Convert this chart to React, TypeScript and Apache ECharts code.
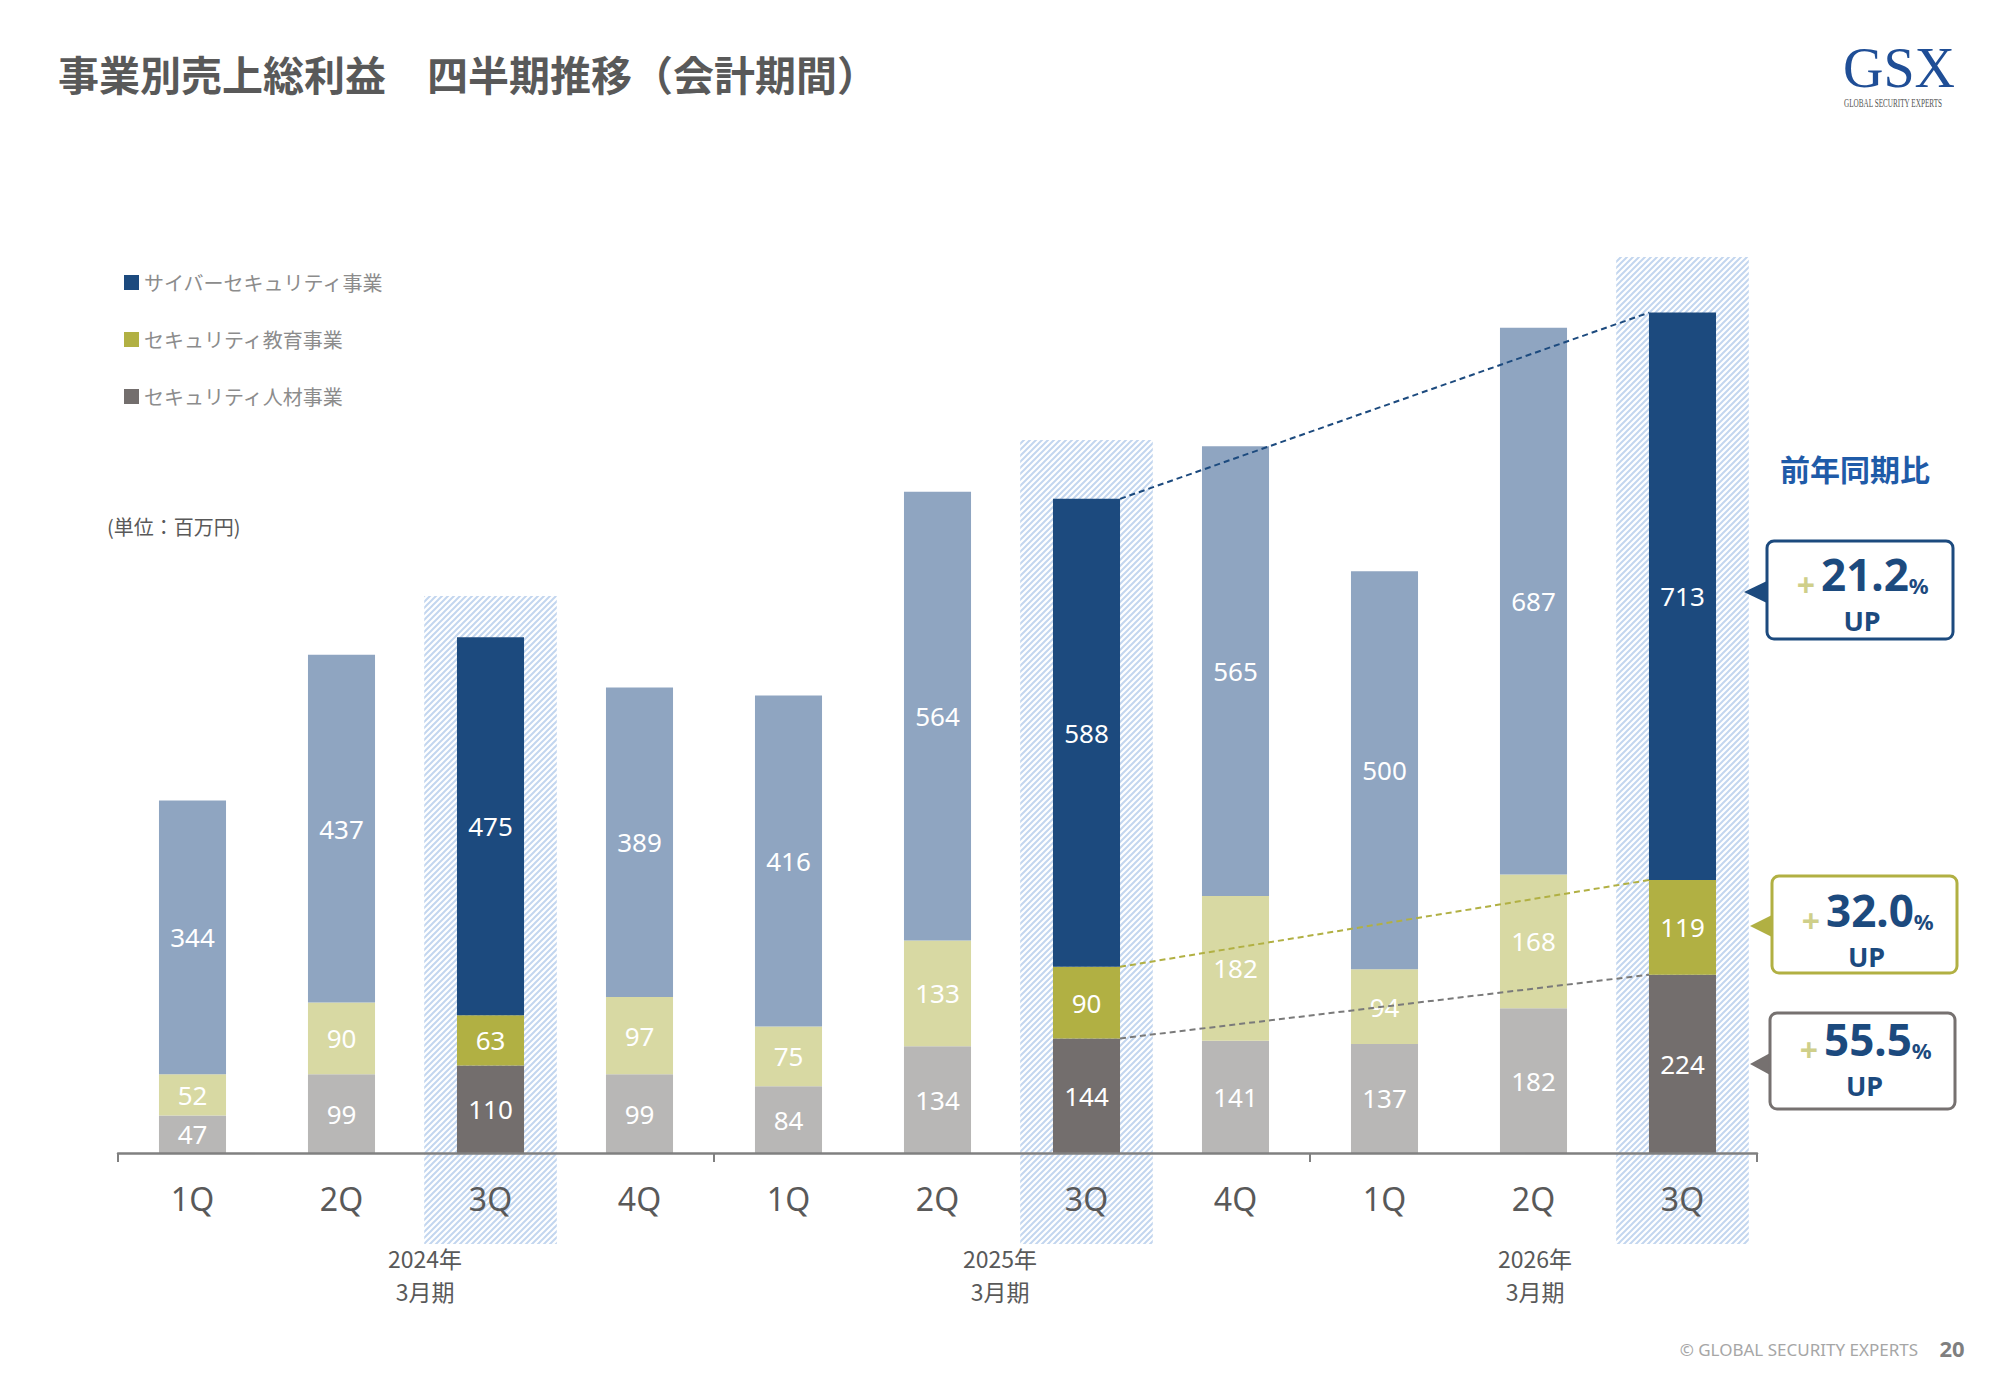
import React, { useEffect, useRef } from "react";
import * as echarts from "echarts";

// ---- data ----
const periods = [
  "2024/3期 1Q", "2024/3期 2Q", "2024/3期 3Q", "2024/3期 4Q",
  "2025/3期 1Q", "2025/3期 2Q", "2025/3期 3Q", "2025/3期 4Q",
  "2026/3期 1Q", "2026/3期 2Q", "2026/3期 3Q",
];
const quarterLabels = ["1Q", "2Q", "3Q", "4Q", "1Q", "2Q", "3Q", "4Q", "1Q", "2Q", "3Q"];
const cyber = [344, 437, 475, 389, 416, 564, 588, 565, 500, 687, 713];
const education = [52, 90, 63, 97, 75, 133, 90, 182, 94, 168, 119];
const talent = [47, 99, 110, 99, 84, 134, 144, 141, 137, 182, 224];
const highlightIdx = [2, 6, 10];
const bandTop = [700, 896, 1126];
const fiscalYears = ["2024年", "2025年", "2026年"];
const fiscalPeriodLabel = "3月期";
const seriesNames = ["サイバーセキュリティ事業", "セキュリティ教育事業", "セキュリティ人材事業"];
const yoyValues = ["21.2", "32.0", "55.5"];
const compareFrom = 6;
const compareTo = 10;

// ---- styles ----
const DARK = { cyber: "#1c4a7e", edu: "#b1b043", talent: "#736e6d" };
const LIGHT = { cyber: "#8fa5c1", edu: "#d8d9a3", talent: "#b8b7b6" };
const JP = "'Noto Sans CJK JP', 'Noto Sans', sans-serif";
const NUM = "'Noto Sans', 'Noto Sans CJK JP', sans-serif";
const TXT = "#595959";
const yearLabelX = [425, 1000, 1535];

function makeHatch() {
  const s = 6;
  const c = document.createElement("canvas");
  c.width = s;
  c.height = s;
  const g = c.getContext("2d")!;
  g.fillStyle = "#ffffff";
  g.fillRect(0, 0, s, s);
  g.strokeStyle = "#c3d6ef";
  g.lineWidth = 2;
  g.beginPath();
  g.moveTo(0, s); g.lineTo(s, 0);
  g.moveTo(-s / 2, s / 2); g.lineTo(s / 2, -s / 2);
  g.moveTo(s / 2, s * 1.5); g.lineTo(s * 1.5, s / 2);
  g.stroke();
  return { image: c, repeat: "repeat", imageWidth: s, imageHeight: s };
}

function callout(x: number, y: number, w: number, h: number, tipX: number, tipY: number, color: string, value: string, numY: number, upY: number) {
  const cx = x + w / 2;
  return [
    {
      type: "polygon",
      shape: { points: [[x + 2, tipY - 12], [x + 2, tipY + 12], [tipX, tipY]] },
      style: { fill: color },
      z: 10,
    },
    {
      type: "rect",
      shape: { x, y, width: w, height: h, r: 7 },
      style: { fill: "#ffffff", stroke: color, lineWidth: 3 },
      z: 11,
    },
    {
      type: "text",
      x: x + 39,
      y: numY + 2,
      z: 12,
      style: { text: "+", font: `bold 32px ${NUM}`, fill: "#cfcf8a", align: "center", verticalAlign: "middle", lineHeight: 28 },
    },
    {
      type: "text",
      x: x + 54,
      y: numY - 3,
      z: 12,
      style: {
        text: `{n|${value}}{c|%}`,
        align: "left",
        verticalAlign: "middle",
        rich: {
          n: { fontSize: 44, fontWeight: "bold", fill: "#1c4a7e", fontFamily: NUM, verticalAlign: "bottom", lineHeight: 34 },
          c: { fontSize: 22, fontWeight: "bold", fill: "#1c4a7e", fontFamily: NUM, verticalAlign: "bottom", lineHeight: 22 },
        },
      },
    },
    {
      type: "text",
      x: cx + 2,
      y: upY + 3,
      z: 12,
      style: { text: "UP", font: `bold 27px ${NUM}`, fill: "#1c4a7e", align: "center", verticalAlign: "middle", lineHeight: 22 },
    },
  ];
}

export default function App() {
  const ref = useRef<HTMLDivElement>(null);

  useEffect(() => {
    if (!ref.current) return;
    const chart = echarts.init(ref.current, undefined, { renderer: "svg" });
    const hatch = makeHatch();

    const mkBar = (name: string, values: number[], dark: string, light: string) => ({
      type: "bar",
      name,
      stack: "total",
      barWidth: "45%",
      z: 2,
      itemStyle: { color: dark },
      label: {
        show: true,
        position: "inside",
        color: "#ffffff",
        fontSize: 26,
        fontFamily: NUM,
      },
      data: values.map((v, i) => ({
        value: v,
        itemStyle: { color: highlightIdx.includes(i) ? dark : light },
      })),
    });

    const topCyber = (i: number) => talent[i] + education[i] + cyber[i];
    const topEdu = (i: number) => talent[i] + education[i];
    const connectorColors = [DARK.cyber, DARK.edu, "#7a7a7a"];
    const connectorData = [
      [compareFrom, topCyber(compareFrom), compareTo, topCyber(compareTo), 0],
      [compareFrom, topEdu(compareFrom), compareTo, topEdu(compareTo), 1],
      [compareFrom, talent[compareFrom], compareTo, talent[compareTo], 2],
    ];

    const option: any = {
      animation: false,
      backgroundColor: "#ffffff",
      grid: { left: 118, right: 243, top: 198, bottom: 232, containLabel: false },
      legend: {
        data: seriesNames,
        orient: "vertical",
        left: 119,
        top: 266,
        icon: "rect",
        itemWidth: 15,
        itemHeight: 15,
        itemGap: 34,
        selectedMode: false,
        textStyle: { fontSize: 20, color: "#8c8c8c", fontFamily: JP, lineHeight: 23 },
      },
      xAxis: {
        type: "category",
        data: periods,
        z: 3,
        axisLine: { show: true, lineStyle: { color: "#808080", width: 2.5 } },
        axisTick: {
          show: true,
          interval: (i: number) => i % 4 === 0,
          length: 9,
          lineStyle: { color: "#808080", width: 2 },
        },
        axisLabel: {
          interval: 0,
          margin: 29,
          fontSize: 32,
          color: TXT,
          fontFamily: NUM,
          formatter: (_v: string, i: number) => quarterLabels[i],
        },
      },
      yAxis: { type: "value", min: 0, max: 1200, show: false, splitLine: { show: false } },
      series: [
        {
          type: "custom",
          name: "band",
          z: 1,
          silent: true,
          clip: false,
          encode: { x: 0, y: 1 },
          data: highlightIdx.map((idx, k) => [idx, bandTop[k]]),
          renderItem: (_p: any, api: any) => {
            const p = api.coord([api.value(0), api.value(1)]);
            const base = api.coord([api.value(0), 0]);
            const w = api.size([1, 0])[0] * 0.89;
            return {
              type: "rect",
              shape: { x: p[0] - w / 2, y: p[1], width: w, height: base[1] + 91 - p[1] },
              style: { fill: hatch },
            };
          },
        },
        mkBar(seriesNames[2], talent, DARK.talent, LIGHT.talent),
        mkBar(seriesNames[1], education, DARK.edu, LIGHT.edu),
        mkBar(seriesNames[0], cyber, DARK.cyber, LIGHT.cyber),
        {
          type: "custom",
          name: "connectors",
          z: 5,
          silent: true,
          clip: false,
          encode: { x: 0, y: 1 },
          data: connectorData,
          renderItem: (_p: any, api: any) => {
            const half = (api.size([1, 0])[0] * 0.45) / 2;
            const a = api.coord([api.value(0), api.value(1)]);
            const b = api.coord([api.value(2), api.value(3)]);
            return {
              type: "line",
              shape: { x1: a[0] + half, y1: a[1], x2: b[0] - half, y2: b[1] },
              style: { stroke: connectorColors[api.value(4)], lineWidth: 2, lineDash: [6, 4] },
            };
          },
        },
      ],
      graphic: [
        {
          type: "text",
          x: 58,
          y: 73,
          style: {
            text: "事業別売上総利益　四半期推移（会計期間）",
            font: `bold 41px ${JP}`,
            fill: TXT,
            verticalAlign: "middle",
          },
        },
        {
          type: "text",
          x: 1843,
          y: 68,
          style: { text: "GSX", font: "56px 'Liberation Serif', serif", fill: "#1f4e96", verticalAlign: "middle" },
        },
        {
          type: "text",
          x: 1844,
          y: 103,
          scaleX: 0.6,
          style: { text: "GLOBAL SECURITY EXPERTS", font: "12px 'Liberation Serif', serif", fill: "#555555", verticalAlign: "middle" },
        },
        {
          type: "text",
          x: 107,
          y: 526,
          style: { text: "(単位：百万円)", font: `20px ${JP}`, fill: TXT, verticalAlign: "middle" },
        },
        ...fiscalYears.map((t, k) => ({
          type: "text",
          x: yearLabelX[k],
          y: 1258,
          style: { text: t, font: `23px ${JP}`, fill: TXT, align: "center", verticalAlign: "middle", lineHeight: 26 },
        })),
        ...fiscalYears.map((_t, k) => ({
          type: "text",
          x: yearLabelX[k],
          y: 1291,
          style: { text: fiscalPeriodLabel, font: `23px ${JP}`, fill: TXT, align: "center", verticalAlign: "middle", lineHeight: 26 },
        })),
        {
          type: "text",
          x: 1780,
          y: 468,
          style: { text: "前年同期比", font: `bold 30px ${JP}`, fill: "#1f5ba8", verticalAlign: "middle" },
        },
        ...callout(1767, 541, 186, 98, 1744, 592, DARK.cyber, yoyValues[0], 582, 617),
        ...callout(1772, 876, 185, 97, 1750, 926, DARK.edu, yoyValues[1], 918, 953),
        ...callout(1770, 1013, 185, 96, 1750, 1064, "#767170", yoyValues[2], 1047, 1082),
        {
          type: "text",
          x: 1918,
          y: 1349,
          style: { text: "© GLOBAL SECURITY EXPERTS", font: `17px ${NUM}`, fill: "#a6a6a6", align: "right", verticalAlign: "middle" },
        },
        {
          type: "text",
          x: 1952,
          y: 1348,
          style: { text: "20", font: `bold 22px ${NUM}`, fill: "#7f7f7f", align: "center", verticalAlign: "middle" },
        },
      ],
    };

    chart.setOption(option);
    return () => chart.dispose();
  }, []);

  return (
    <div
      ref={ref}
      style={{ position: "absolute", left: 0, top: 0, width: 2000, height: 1385, background: "#fff" }}
    />
  );
}
